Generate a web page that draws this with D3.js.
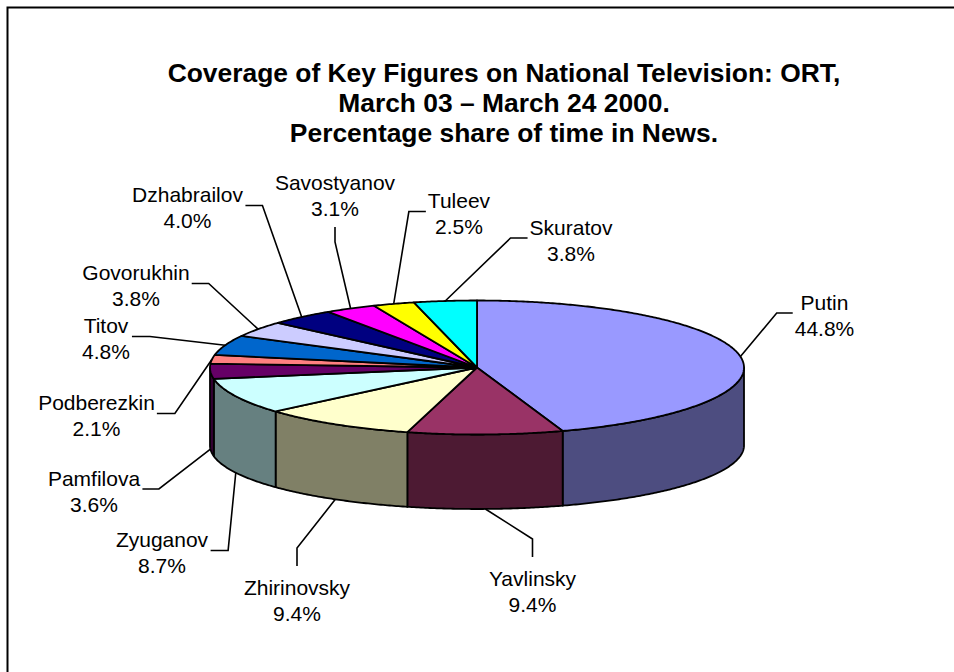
<!DOCTYPE html>
<html>
<head>
<meta charset="utf-8">
<script src="https://cdn.jsdelivr.net/npm/d3@7/dist/d3.min.js"></script>
<style>
  html, body { margin: 0; padding: 0; background: #fff; }
  svg { display: block; }
  text { font-family: "Liberation Sans", Arial, sans-serif; fill: #000; }
</style>
</head>
<body>
<svg id="chart" width="954" height="672"></svg>
<script>
// Share of ORT news time per key figure, clockwise from 12 o'clock
const names = ["Putin", "Yavlinsky", "Zhirinovsky", "Zyuganov", "Pamfilova", "Podberezkin",
               "Titov", "Govorukhin", "Dzhabrailov", "Savostyanov", "Tuleev", "Skuratov"];
const shares = [44.8, 9.4, 9.4, 8.7, 3.6, 2.1, 4.8, 3.8, 4.0, 3.1, 2.5, 3.8];
const topColors = ["#9999FF", "#993366", "#FFFFCC", "#CCFFFF", "#660066", "#FF8080",
                   "#0066CC", "#CCCCFF", "#000080", "#FF00FF", "#FFFF00", "#00FFFF"];
const titleLines = ["Coverage of Key Figures on National Television: ORT,",
                    "March 03 \u2013 March 24 2000.",
                    "Percentage share of time in News."];

// Label placement: centre x, first baseline, side the leader leaves from, stub length
const labelLayout = [
  { x: 824.5, y: 309.5, side: "left",   stub: 16 },
  { x: 532.5, y: 586,   side: "top",    stub: 18 },
  { x: 297,   y: 595,   side: "top",    stub: 18 },
  { x: 162,   y: 547,   side: "right",  stub: 17.5 },
  { x: 94,    y: 485.5, side: "right",  stub: 16.5 },
  { x: 96.5,  y: 410,   side: "right",  stub: 18 },
  { x: 106,   y: 333,   side: "right",  stub: 18 },
  { x: 136,   y: 280,   side: "right",  stub: 17 },
  { x: 187.5, y: 202,   side: "right",  stub: 17 },
  { x: 335,   y: 190,   side: "bottom", stub: 15 },
  { x: 459,   y: 208,   side: "left",   stub: 17 },
  { x: 571,   y: 234.5, side: "left",   stub: 17 }
];

const svg = d3.select("#chart");

// outer frame
svg.append("rect")
  .attr("x", 7.5).attr("y", 7.5).attr("width", 1000).attr("height", 1000)
  .attr("fill", "#fff").attr("stroke", "#000").attr("stroke-width", 2);

// title
svg.append("g").selectAll("text").data(titleLines).join("text")
  .attr("x", 504).attr("y", (d, i) => 82 + i * 30)
  .attr("text-anchor", "middle")
  .attr("font-size", "26.4px").attr("font-weight", "bold")
  .text(d => d);

// 3D pie geometry: top ellipse and the slightly flatter bottom rim
const cx = 477, cy = 367.5, rx = 267, ry = 67;
const cyB = 445.5, ryB = 63.5;
const topPt = a => [cx + rx * Math.sin(a), cy - ry * Math.cos(a)];
const botPt = a => [cx + rx * Math.sin(a), cyB - ryB * Math.cos(a)];
const sampleArc = (a0, a1, fn) => {
  const n = Math.max(2, Math.ceil((a1 - a0) / (Math.PI / 360)));
  return d3.range(n + 1).map(i => fn(a0 + (a1 - a0) * i / n));
};
const shade = c => { const k = d3.rgb(c); return d3.rgb(k.r * 0.5, k.g * 0.5, k.b * 0.5).formatHex(); };

const arcs = d3.pie().sort(null).value(d => d)
  .startAngle(0).endAngle(2 * Math.PI)(shares);

const line = d3.line();
const pie = svg.append("g");

// visible side walls (front half, between 3 and 9 o'clock)
arcs.forEach((d, i) => {
  const a0 = Math.max(d.startAngle, Math.PI / 2);
  const a1 = Math.min(d.endAngle, 3 * Math.PI / 2);
  if (a1 <= a0) return;
  const pts = sampleArc(a0, a1, topPt).concat(sampleArc(a0, a1, botPt).reverse());
  pie.append("path")
    .attr("d", line(pts) + "Z")
    .attr("fill", shade(topColors[i]))
    .attr("stroke", "#000").attr("stroke-width", 1.8).attr("stroke-linejoin", "round");
});

// top faces
arcs.forEach((d, i) => {
  const pts = [[cx, cy]].concat(sampleArc(d.startAngle, d.endAngle, topPt));
  pie.append("path")
    .attr("d", line(pts) + "Z")
    .attr("fill", topColors[i])
    .attr("stroke", "#000").attr("stroke-width", 1.8).attr("stroke-linejoin", "round");
});

// data labels with leader lines
const lblG = svg.append("g");
arcs.forEach((d, i) => {
  const L = labelLayout[i];
  const t = lblG.append("text")
    .attr("text-anchor", "middle").attr("font-size", "21px");
  t.append("tspan").attr("x", L.x).attr("y", L.y).text(names[i]);
  t.append("tspan").attr("x", L.x).attr("y", L.y + 26).text(d3.format(".1f")(shares[i]) + "%");
  const bb = t.node().getBBox();

  const mid = (d.startAngle + d.endAngle) / 2;
  const front = mid > Math.PI / 2 && mid < 3 * Math.PI / 2;
  const anchor = front ? botPt(mid) : topPt(mid);

  let start, elbow;
  if (L.side === "left") {
    start = [bb.x - 2, L.y + 3.5]; elbow = [start[0] - L.stub, start[1]];
  } else if (L.side === "right") {
    start = [bb.x + bb.width + 2, L.y + 3.5]; elbow = [start[0] + L.stub, start[1]];
  } else if (L.side === "top") {
    start = [L.x, L.y - 29]; elbow = [L.x, start[1] - L.stub];
  } else {
    start = [L.x, L.y + 26 + 11]; elbow = [L.x, start[1] + L.stub];
  }
  lblG.append("path")
    .attr("d", line([start, elbow, anchor]))
    .attr("fill", "none").attr("stroke", "#000").attr("stroke-width", 1.6);
});
</script>
</body>
</html>
